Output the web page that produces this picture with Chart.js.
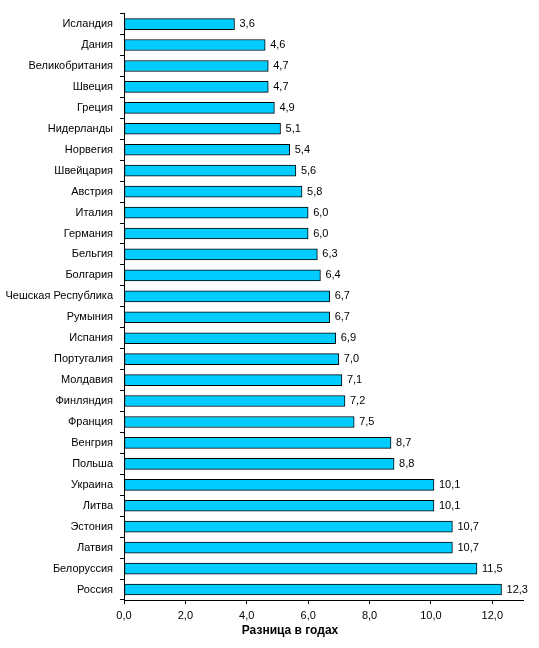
<!DOCTYPE html>
<html>
<head>
<meta charset="utf-8">
<script src="https://cdn.jsdelivr.net/npm/chart.js@4/dist/chart.umd.min.js"></script>
<style>
html,body{margin:0;padding:0;background:#fff;}
#wrap{width:539px;height:648px;position:relative;}
</style>
</head>
<body>
<div id="wrap"><canvas id="c" width="539" height="648"></canvas></div>
<script>
const countries = ["Исландия","Дания","Великобритания","Швеция","Греция","Нидерланды","Норвегия","Швейцария","Австрия","Италия","Германия","Бельгия","Болгария","Чешская Республика","Румыния","Испания","Португалия","Молдавия","Финляндия","Франция","Венгрия","Польша","Украина","Литва","Эстония","Латвия","Белоруссия","Россия"];
const gapYears = [3.6,4.6,4.7,4.7,4.9,5.1,5.4,5.6,5.8,6.0,6.0,6.3,6.4,6.7,6.7,6.9,7.0,7.1,7.2,7.5,8.7,8.8,10.1,10.1,10.7,10.7,11.5,12.3];
const xTicks = [0,2,4,6,8,10,12];
const xTitle = "Разница в годах";

const FONT = "'Liberation Sans', Arial, sans-serif";
const fmt = v => v.toFixed(1).replace('.', ',');

const valueLabels = {
  id: 'valueLabels',
  afterDatasetsDraw(chart) {
    const ctx = chart.ctx;
    const meta = chart.getDatasetMeta(0);
    ctx.save();
    ctx.font = "11px " + FONT;
    ctx.fillStyle = "#000";
    ctx.textAlign = "left";
    ctx.textBaseline = "middle";
    meta.data.forEach((bar, i) => {
      ctx.fillText(fmt(gapYears[i]), bar.x + 5, bar.y);
    });
    ctx.restore();
  }
};

const axisTitle = {
  id: 'axisTitle',
  afterDraw(chart) {
    const ctx = chart.ctx;
    ctx.save();
    ctx.font = "bold 12px " + FONT;
    ctx.fillStyle = "#000";
    ctx.textAlign = "center";
    ctx.textBaseline = "middle";
    ctx.fillText(xTitle, 290, 631);
    ctx.restore();
  }
};

new Chart(document.getElementById('c'), {
  type: 'bar',
  data: {
    labels: countries,
    datasets: [{
      data: gapYears,
      backgroundColor: '#00CCFF',
      borderColor: '#000000',
      borderWidth: 1,
      borderSkipped: false,
      barThickness: 11
    }]
  },
  options: {
    indexAxis: 'y',
    responsive: false,
    animation: false,
    layout: { padding: { top: 6, right: 16, left: 0, bottom: 0 } },
    plugins: { legend: { display: false }, tooltip: { enabled: false } },
    scales: {
      x: {
        min: 0, max: 13,
        afterBuildTicks: s => { s.ticks = xTicks.map(v => ({ value: v })); },
        afterFit: s => { s.height = 48; },
        grid: { display: true, drawOnChartArea: false, drawTicks: true, tickLength: 4, color: '#000' },
        border: { display: true, color: '#000', width: 1 },
        ticks: { color: '#000', font: { family: FONT, size: 11 }, padding: 5, maxRotation: 0, autoSkip: false, callback: v => fmt(v) }
      },
      y: {
        afterFit: s => { s.width = 124; },
        grid: { display: true, offset: true, drawOnChartArea: false, drawTicks: true, tickLength: 4, color: '#000' },
        border: { display: true, color: '#000', width: 1 },
        ticks: { color: '#000', font: { family: FONT, size: 11 }, padding: 7, autoSkip: false }
      }
    }
  },
  plugins: [valueLabels, axisTitle]
});
</script>
</body>
</html>
